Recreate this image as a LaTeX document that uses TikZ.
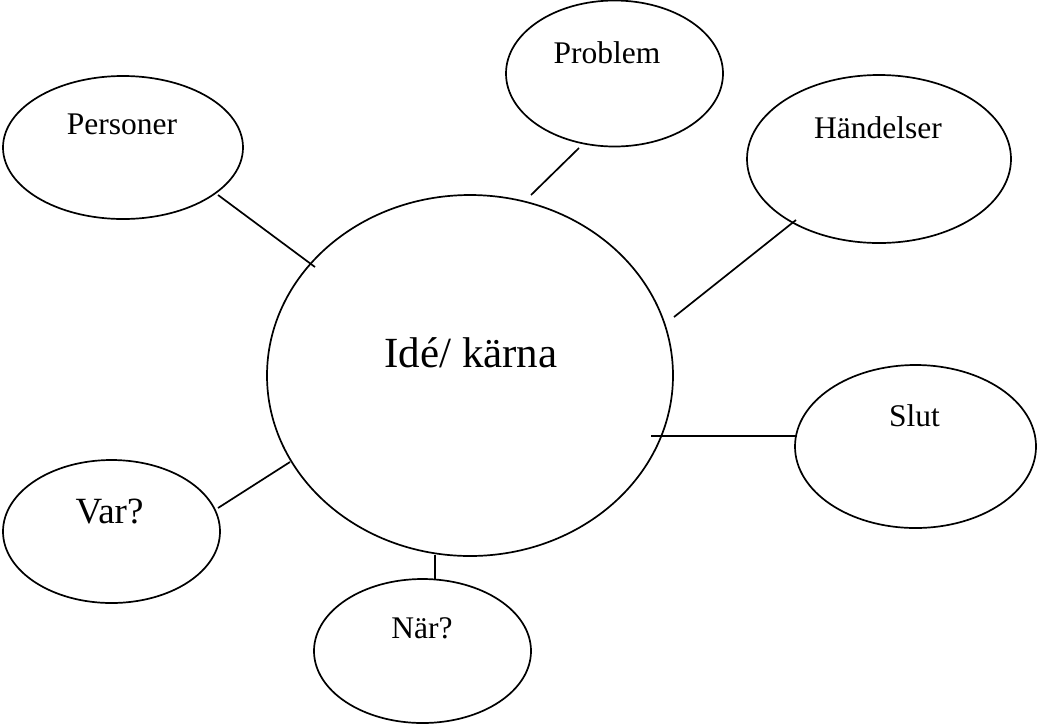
\documentclass[tikz,border=0pt]{standalone}
\usepackage{fontspec}
\setmainfont{Liberation Serif}
\usetikzlibrary{shapes.geometric}
\tikzset{
  bubble/.style={draw, ellipse, line width=1.7pt, inner sep=0pt},
  word/.style={anchor=base, inner sep=0pt, font=\fontsize{31.5}{36}\selectfont},
  link/.style={line width=1.7pt},
}
\begin{document}
\begin{tikzpicture}[x=1pt,y=-1pt]
\useasboundingbox (0,0) rectangle (1038,724);
% ellipses
\node[bubble, minimum width=406pt, minimum height=361pt] (core) at (470,375.5) {};
\node[bubble, minimum width=240pt, minimum height=143pt] (pers) at (123,147.5) {};
\node[bubble, minimum width=217pt, minimum height=146pt] (prob) at (614.5,73.5) {};
\node[bubble, minimum width=264pt, minimum height=168pt] (hand) at (879,159) {};
\node[bubble, minimum width=241pt, minimum height=163pt] (slut) at (915.5,446.5) {};
\node[bubble, minimum width=217pt, minimum height=143pt] (var) at (111.5,531.5) {};
\node[bubble, minimum width=217pt, minimum height=144pt] (nar) at (422.5,651) {};
% texts
\node[word, font=\fontsize{43}{48}\selectfont] (coret) at (471,367) {Idé/ kärna};
\node[word] (perst) at (122,134) {Personer};
\node[word] (probt) at (607,63) {Problem};
\node[word] (handt) at (878,138) {Händelser};
\node[word] (slutt) at (914.5,426) {Slut};
\node[word, font=\fontsize{37}{42}\selectfont] (vart) at (109.5,523) {Var?};
\node[word] (nart) at (422,638) {När?};
% connector ends
\coordinate (p1) at (218,195);  \coordinate (p2) at (315,267);
\coordinate (q1) at (579,148);  \coordinate (q2) at (531,195);
\coordinate (h1) at (796,220);  \coordinate (h2) at (674,317);
\coordinate (s1) at (797,436);  \coordinate (s2) at (651,436);
\coordinate (v1) at (218,508);  \coordinate (v2) at (290,462);
\coordinate (n1) at (435,579);  \coordinate (n2) at (435,555);
\draw[link] (p1) -- (p2);
\draw[link] (q1) -- (q2);
\draw[link] (h1) -- (h2);
\draw[link] (s1) -- (s2);
\draw[link] (v1) -- (v2);
\draw[link] (n1) -- (n2);
\end{tikzpicture}
\end{document}
